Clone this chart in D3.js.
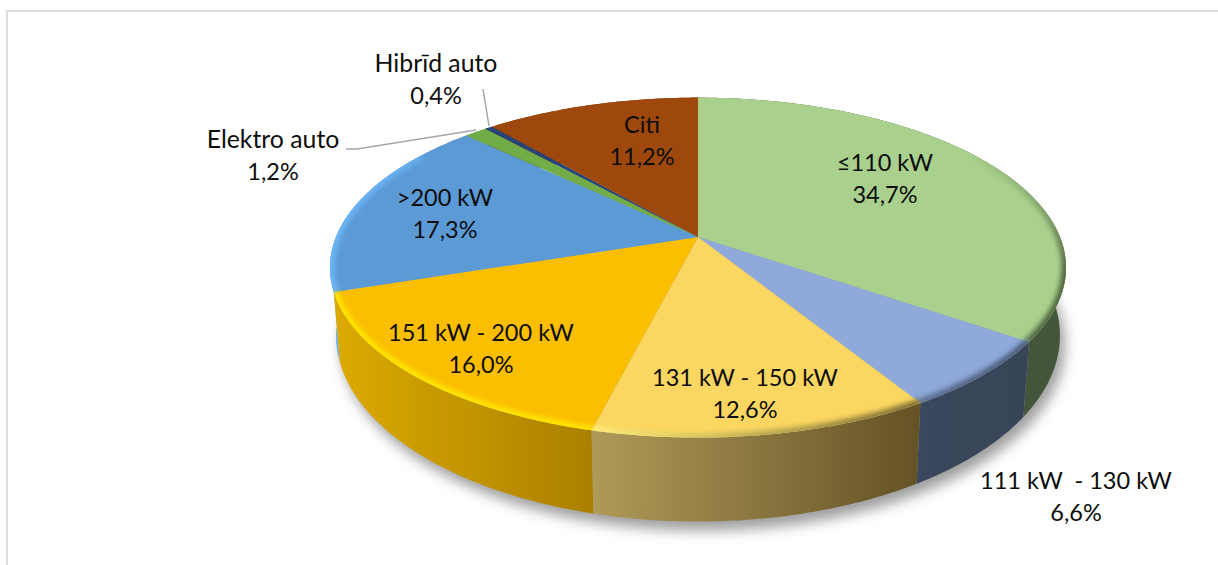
<!DOCTYPE html>
<html>
<head>
<meta charset="utf-8">
<script src="https://cdn.jsdelivr.net/npm/d3@7/dist/d3.min.js"></script>
<style>
html,body{margin:0;padding:0;background:#fff;overflow:hidden}
text{font-family:Lato,"Open Sans",sans-serif;fill:#0d0d0d;text-anchor:middle;white-space:pre}
</style>
</head>
<body>
<svg id="c" width="1218" height="565"></svg>
<script>
// ---- data ----
const categories = ["≤110 kW","111 kW  - 130 kW","131 kW - 150 kW","151 kW - 200 kW",">200 kW","Elektro auto","Hibrīd auto","Citi"];
const values = [34.7,6.6,12.6,16.0,17.3,1.2,0.4,11.2];
const valueLabels = ["34,7%","6,6%","12,6%","16,0%","17,3%","1,2%","0,4%","11,2%"];
// ---- styles ----
const topColors  = ["#A9D08C","#8EA9DA","#FBD660","#FBBE00","#5B9AD5","#70AD47","#264478","#9E480E"];
const wallStart  = ["#4a5e3c","#3a475c","#b09a58","#dcaa00","#62b0f2","#5a8a3a","#1e3660","#7e390b"];
const wallEnd    = ["#43553a","#384558","#645226","#aa8000","#3f6f9c","#5a8a3a","#1e3660","#7e390b"];
const rimStart   = ["#5f7d4c","#5c6f92","#fff07a","#ffe600","#6db8f8","#70AD47","#264478","#9E480E"];
const rimEnd     = ["#4f6640","#4a5a76","#7c6a30","#ffe600","#62a8ea","#70AD47","#264478","#9E480E"];
const labelCenters = [[885,163],[1076,481],[745,378],[481,333],[445,198],[273,140],[436,64],[642,125]];
const labelSizes = [23.5,23.5,23.5,23.5,23.5,24.8,24.8,23.5];
const lineGap = 32;
const leaders = [[[346,149],[357,149],[476,130]],[[483,89],[489,126]]];

const svg = d3.select("#c");
const defs = svg.append("defs");
const blur = (id,s)=>defs.append("filter").attr("id",id).attr("filterUnits","userSpaceOnUse")
  .attr("x",0).attr("y",0).attr("width",1218).attr("height",565)
  .append("feGaussianBlur").attr("stdDeviation",s);
blur("shadow",6.5); blur("rim",2.4);

// frame
svg.append("path").attr("d","M7 565V11H1218").attr("fill","none").attr("stroke","#dcdcdc").attr("stroke-width",2);

// perspective projection of the pie's top and bottom discs
const cx = 698, persp = 0.18;
const project = (plane, a, r=1) => {
  const u = Math.sin(a)*r, v = -Math.cos(a)*r, k = 1 - persp*v;
  return [cx + plane.R*u/k, plane.y0 + plane.b*v/k];
};
const topPlane = {R:362, y0:237, b:164.5};
const botPlane = {R:356, y0:302, b:180};

const arcs = d3.pie().value(d=>d).sort(null).startAngle(0).endAngle(2*Math.PI)(values);
const sample = (a0,a1)=>{
  const n = Math.max(2,Math.ceil((a1-a0)/0.01));
  return d3.range(n+1).map(i=>a0+(a1-a0)*i/n);
};
const line = d3.line();
const full = sample(0,2*Math.PI);

// shadow
svg.append("path").attr("d",line(full.map(a=>{const p=project(botPlane,a);return [p[0]+5,p[1]+9];}))+"Z")
  .attr("fill","#000").attr("fill-opacity",0.38).attr("filter","url(#shadow)");

// gradients
arcs.forEach((d,i)=>{
  const xs = sample(d.startAngle,d.endAngle).flatMap(a=>[project(topPlane,a)[0],project(botPlane,a)[0]]);
  const [x0,x1] = d3.extent(xs);
  const mk = (id,c0,c1)=>{
    const g = defs.append("linearGradient").attr("id",id).attr("gradientUnits","userSpaceOnUse")
      .attr("x1",x0).attr("x2",x1).attr("y1",0).attr("y2",0);
    g.append("stop").attr("offset",0).attr("stop-color",c0);
    g.append("stop").attr("offset",1).attr("stop-color",c1);
  };
  mk("w"+i,wallStart[i],wallEnd[i]);
  if (i>0) mk("r"+i,rimStart[i],rimEnd[i]);
});
// the first slice's bevel fades out towards the back of the pie
const fade = defs.append("linearGradient").attr("id","r0").attr("gradientUnits","userSpaceOnUse")
  .attr("x1",0).attr("x2",0).attr("y1",150).attr("y2",270);
fade.append("stop").attr("offset",0).attr("stop-color",rimStart[0]).attr("stop-opacity",0);
fade.append("stop").attr("offset",1).attr("stop-color",rimEnd[0]).attr("stop-opacity",1);

const wallOrder = arcs.map((d,i)=>i).sort((p,q)=>{
  const m=d=>-Math.cos((d.startAngle+d.endAngle)/2);
  return m(arcs[p])-m(arcs[q]);
});

// walls
svg.append("g").selectAll("path").data(wallOrder).join("path")
  .attr("d",i=>{
    const d=arcs[i], s=sample(d.startAngle,d.endAngle);
    return line(s.map(a=>project(topPlane,a)).concat(s.slice().reverse().map(a=>project(botPlane,a))))+"Z";
  })
  .attr("fill",i=>`url(#w${i})`);

// top faces
svg.append("g").selectAll("path").data(arcs).join("path")
  .attr("d",d=>line([[cx,topPlane.y0]].concat(sample(d.startAngle,d.endAngle).map(a=>project(topPlane,a))))+"Z")
  .attr("fill",(d,i)=>topColors[i]);

// bevel along the rim, kept inside the top disc
defs.append("clipPath").attr("id","disc").append("path").attr("d",line(full.map(a=>project(topPlane,a)))+"Z");
svg.append("g").attr("clip-path","url(#disc)").selectAll("path")
  .data(arcs.filter((d,i)=>i<5)).join("path")
  .attr("d",d=>line(sample(d.startAngle,d.endAngle).filter(a=>-Math.cos(a)>-0.55).map(a=>project(topPlane,a))))
  .attr("fill","none").attr("stroke",(d,i)=>`url(#r${i})`).attr("stroke-width",9)
  .attr("filter","url(#rim)");

// leader lines
svg.append("g").selectAll("path").data(leaders).join("path")
  .attr("d",d=>line(d)).attr("fill","none").attr("stroke","#a6a6a6").attr("stroke-width",1.5);

// labels
const labels = svg.append("g").selectAll("g").data(categories).join("g");
labels.append("text").attr("x",(d,i)=>labelCenters[i][0]).attr("y",(d,i)=>labelCenters[i][1]+8)
  .style("font-size",(d,i)=>labelSizes[i]+"px").text(d=>d);
labels.append("text").attr("x",(d,i)=>labelCenters[i][0]).attr("y",(d,i)=>labelCenters[i][1]+8+lineGap)
  .style("font-size","23.5px").text((d,i)=>valueLabels[i]);
</script>
</body>
</html>
